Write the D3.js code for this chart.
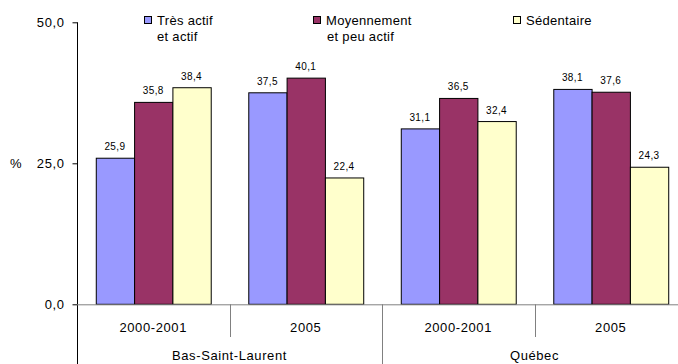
<!DOCTYPE html>
<html>
<head>
<meta charset="utf-8">
<script src="https://cdn.jsdelivr.net/npm/d3@7"></script>
<style>
  body { margin: 0; background: #fff; }
  svg { display: block; font-family: 'Liberation Sans', Arial, sans-serif; }
</style>
</head>
<body>
<svg id="chart"></svg>
<script>
// data
const regions = ['Bas-Saint-Laurent', 'Québec'];
const periods = ['2000-2001', '2005'];
const seriesNames = [['Très actif', 'et actif'], ['Moyennement', 'et peu actif'], ['Sédentaire']];
const tresActif = [25.9, 37.5, 31.1, 38.1];
const moyennement = [35.8, 40.1, 36.5, 37.6];
const sedentaire = [38.4, 22.4, 32.4, 24.3];
const yTicks = [0, 25, 50];

const colors = ['#9999ff', '#993366', '#ffffcc'];
const w = 678; // svg width
const h = 364; // svg height
const left = 77; // y axis position
const groupW = 152.5; // width of one period group
const yTop = 22.3;
const yBottom = 304.3;

const svg = d3.select('#chart').attr('width', w).attr('height', h);

// one group per region + period
const groups = [];
regions.forEach((r) => periods.forEach((p) => groups.push(r + '|' + p)));
const values = groups.map((g, i) => [tresActif[i], moyennement[i], sedentaire[i]]);

const xScale = d3.scaleBand().domain(groups).range([left, left + groupW * groups.length]);
const xInner = d3.scaleBand().domain([0, 1, 2]).range([0, xScale.bandwidth()]).paddingOuter(0.49);
const yScale = d3.scaleLinear().domain([0, 50]).range([yBottom, yTop]);

// bars
const g = svg.selectAll('g.group')
  .data(values)
  .enter()
  .append('g')
  .attr('class', 'group')
  .attr('transform', (d, i) => 'translate(' + xScale(groups[i]) + ',0)');

g.selectAll('rect')
  .data((d) => d)
  .enter()
  .append('rect')
  .attr('x', (d, i) => xInner(i) + 0.5)
  .attr('y', (d) => yScale(d))
  .attr('width', xInner.bandwidth())
  .attr('height', (d) => yBottom - yScale(d))
  .attr('fill', (d, i) => colors[i])
  .attr('stroke', '#000')
  .attr('stroke-width', 1);

// value labels
g.selectAll('text')
  .data((d) => d)
  .enter()
  .append('text')
  .attr('x', (d, i) => xInner(i) + xInner.bandwidth() / 2)
  .attr('y', (d) => yScale(d) - 8)
  .attr('text-anchor', 'middle')
  .attr('font-size', 10)
  .attr('letter-spacing', 0.4)
  .text((d) => d.toFixed(1).replace('.', ','));

// y axis
const yAxis = d3.axisLeft(yScale)
  .tickValues(yTicks)
  .tickSize(5)
  .tickPadding(8)
  .tickFormat((d) => d.toFixed(1).replace('.', ','));
const ya = svg.append('g')
  .attr('transform', 'translate(' + (left + 0.5) + ',0)')
  .call(yAxis);
ya.select('.domain').remove();
ya.selectAll('.tick line').attr('stroke', '#000');
ya.selectAll('.tick text')
  .attr('font-size', 13)
  .attr('letter-spacing', 0.6)
  .attr('fill', '#000')
  .style('font-family', "'Liberation Sans', Arial, sans-serif");
ya.append('line')
  .attr('x1', 0).attr('x2', 0)
  .attr('y1', yTop).attr('y2', h)
  .attr('stroke', '#000');

svg.append('text')
  .attr('x', 10)
  .attr('y', yScale(25) + 4.5)
  .attr('font-size', 13)
  .text('%');

// x axis line
svg.append('line')
  .attr('x1', left).attr('x2', w)
  .attr('y1', yBottom + 0.5).attr('y2', yBottom + 0.5)
  .attr('stroke', '#808080');

// period labels and separators
groups.forEach((grp, i) => {
  const x0 = xScale(grp);
  svg.append('text')
    .attr('x', x0 + xScale.bandwidth() / 2)
    .attr('y', 332)
    .attr('text-anchor', 'middle')
    .attr('font-size', 13)
    .attr('letter-spacing', 0.6)
    .text(grp.split('|')[1]);
  if (i > 0) {
    const outer = i % periods.length === 0;
    svg.append('line')
      .attr('x1', Math.round(x0) + 0.5).attr('x2', Math.round(x0) + 0.5)
      .attr('y1', yBottom)
      .attr('y2', outer ? h : 337)
      .attr('stroke', '#808080');
  }
});

// region labels
regions.forEach((r, i) => {
  const x0 = xScale(r + '|' + periods[0]);
  svg.append('text')
    .attr('x', x0 + xScale.bandwidth())
    .attr('y', 360)
    .attr('text-anchor', 'middle')
    .attr('font-size', 13)
    .attr('letter-spacing', 0.6)
    .text(r);
});

// legend
const legendX = [144, 313, 513];
const legend = svg.selectAll('g.legend')
  .data(seriesNames)
  .enter()
  .append('g')
  .attr('class', 'legend')
  .attr('transform', (d, i) => 'translate(' + legendX[i] + ',0)');
legend.append('rect')
  .attr('x', 0.5).attr('y', 16.5)
  .attr('width', 7).attr('height', 7)
  .attr('fill', (d, i) => colors[i])
  .attr('stroke', '#000');
legend.each(function (lines) {
  const t = d3.select(this).append('text')
    .attr('font-size', 13)
    .attr('letter-spacing', 0.3);
  lines.forEach((line, j) => {
    t.append('tspan')
      .attr('x', j === 0 ? 13 : 13 + (line.startsWith('et peu') ? 1 : 0))
      .attr('y', 24.5 + j * 16)
      .text(line);
  });
});
</script>
</body>
</html>
